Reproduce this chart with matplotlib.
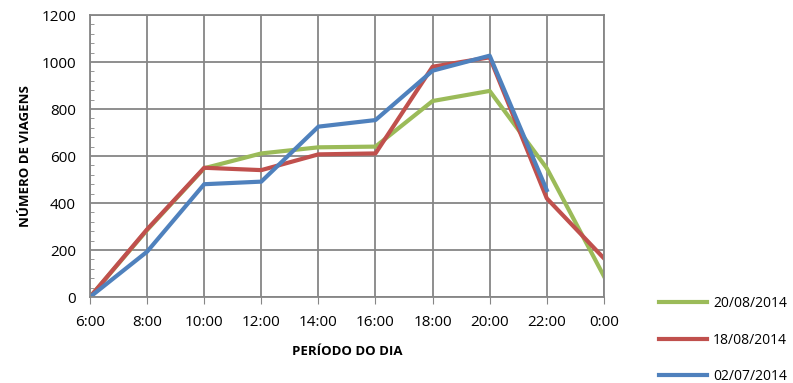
import matplotlib.pyplot as plt
from matplotlib.ticker import MultipleLocator

plt.rcParams['font.family'] = ['Open Sans', 'DejaVu Sans']

# dados
horas = ['6:00', '8:00', '10:00', '12:00', '14:00', '16:00', '18:00', '20:00', '22:00', '0:00']
dia_20_08 = [0, 285, 548, 611, 637, 640, 834, 877, 548, 89]
dia_18_08 = [0, 288, 550, 540, 607, 611, 980, 1020, 420, 165]
dia_02_07 = [0, 193, 480, 491, 725, 753, 963, 1027, 455]

fig = plt.figure(figsize=(7.93, 3.83), dpi=100)
ax = fig.add_axes([0.1135, 0.2245, 0.648, 0.7363])

x = list(range(len(horas)))
l1, = ax.plot(x, dia_20_08, color='#9BBB59', lw=3, label='20/08/2014')
l2, = ax.plot(x, dia_18_08, color='#C0504D', lw=3, label='18/08/2014')
l3, = ax.plot(x[:len(dia_02_07)], dia_02_07, color='#4F81BD', lw=3, label='02/07/2014')

ax.set_xlim(0, len(horas) - 1)
ax.set_ylim(0, 1200)
ax.set_xticks(x)
ax.set_xticklabels(horas)
ax.yaxis.set_major_locator(MultipleLocator(200))
ax.yaxis.set_minor_locator(MultipleLocator(40))
ax.grid(True, which='major', color='#868686', lw=1.3)
ax.set_axisbelow(True)
for s in ax.spines.values():
    s.set_color('#868686')
    s.set_linewidth(1.3)

ax.tick_params(axis='x', which='major', direction='out', length=5, color='#868686',
               labelsize=11, pad=8)
ax.tick_params(axis='y', which='major', direction='in', length=0, labelsize=11, pad=10)
ax.tick_params(axis='y', which='minor', direction='in', length=3, color='#868686')

ax.set_xlabel('PERÍODO DO DIA', fontsize=9.5, fontweight='bold', labelpad=11)
ax.set_ylabel('NÚMERO DE VIAGENS', fontsize=9.5, fontweight='bold', labelpad=7)

fig.legend(handles=[l1, l2, l3], loc='lower left', bbox_to_anchor=(0.815, -0.036),
           frameon=False, fontsize=10, labelspacing=1.55, handlelength=3.5,
           handletextpad=0.4)

fig.savefig('out.png', dpi=100)
